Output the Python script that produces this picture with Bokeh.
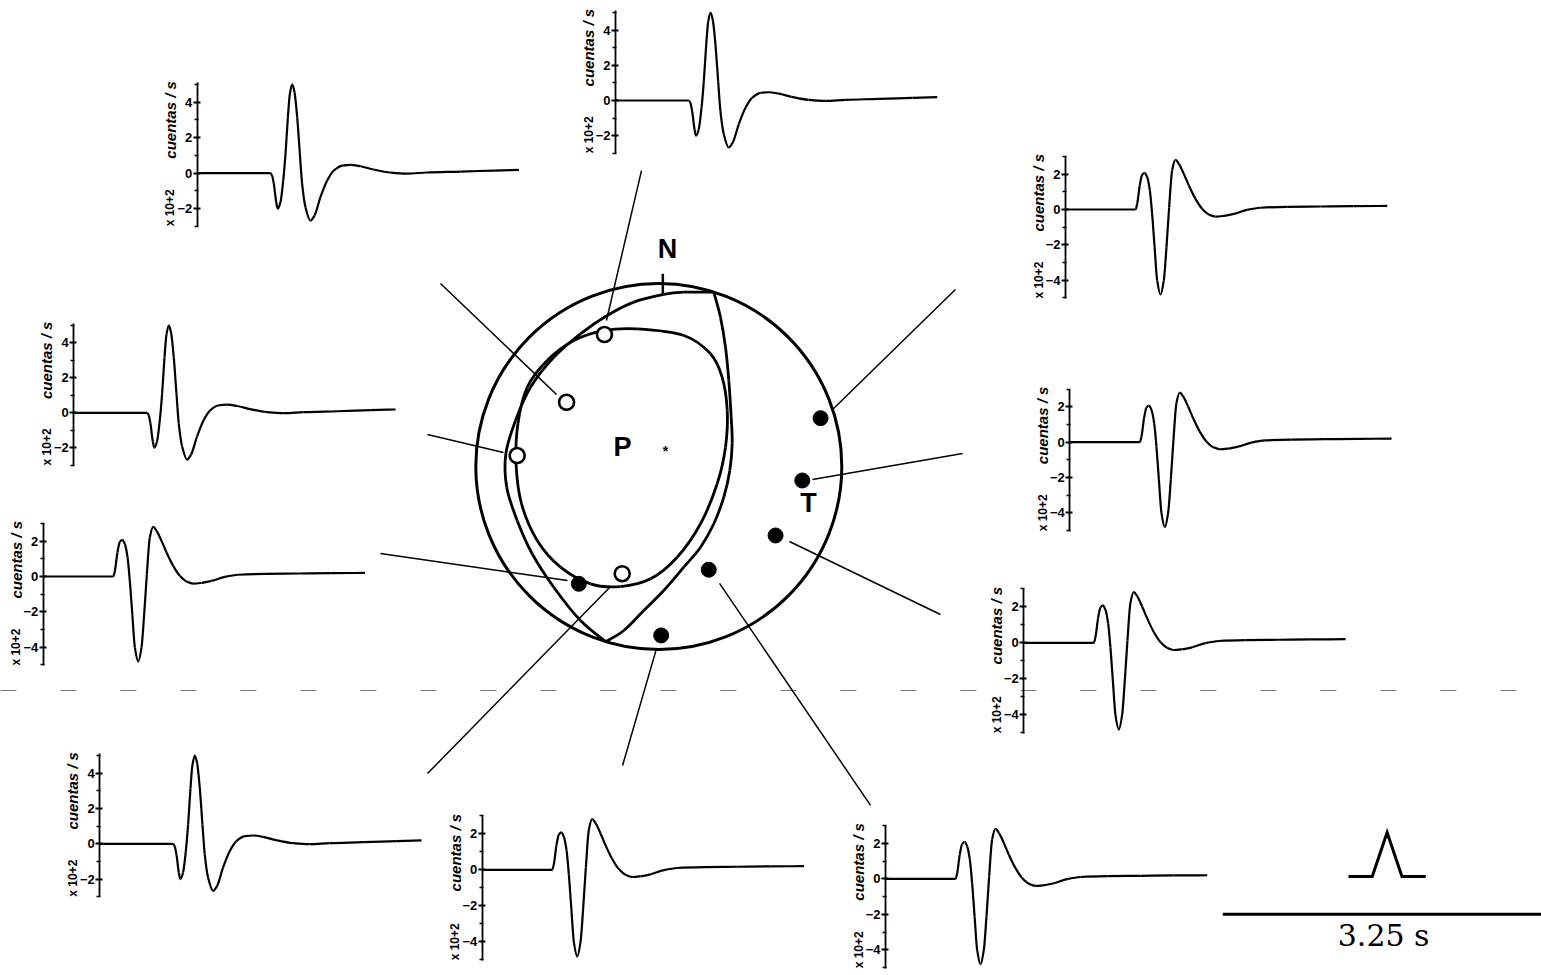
import math
from bokeh.plotting import figure
from bokeh.models import Range1d, LinearAxis, FixedTicker
from bokeh.core.properties import value
from bokeh.embed import file_html
from bokeh.resources import INLINE

# ---------------- data ----------------
# synthetic seismogram, type A (first motion down), time in s, amplitude in x100 counts/s
TIME_A = [0.00, 0.74, 0.757, 0.774, 0.798, 0.814, 0.841, 0.869, 0.892, 0.916, 0.936, 0.96,
          0.983, 1.01, 1.037, 1.06, 1.094, 1.144, 1.185, 1.245, 1.313, 1.38, 1.465, 1.55,
          1.65, 1.78, 1.95, 2.12, 2.32, 2.66, 3.0, 3.25]
AMP_A = [0.0, 0.0, -0.15, -0.6, -1.63, -2.0, -1.63, -0.41, 1.09, 3.15, 4.47, 5.0,
         4.56, 3.15, 1.09, -0.6, -1.92, -2.67, -2.38, -1.35, -0.41, 0.15, 0.43, 0.47,
         0.39, 0.21, 0.04, -0.02, 0.04, 0.09, 0.15, 0.19]

# synthetic seismogram, type B (first motion up)
TIME_B = [0.0, 0.707, 0.724, 0.75, 0.774, 0.798, 0.825, 0.852, 0.875, 0.9, 0.926, 0.96,
          0.993, 1.02, 1.047, 1.077, 1.111, 1.145, 1.195, 1.246, 1.313, 1.38, 1.448, 1.515,
          1.6, 1.7, 1.835, 1.97, 2.24, 2.576, 2.91, 3.25]
AMP_B = [0.0, 0.0, 0.32, 1.36, 1.96, 2.08, 1.83, 1.08, -0.25, -2.13, -4.02, -4.82,
         -4.02, -2.13, 0.13, 2.21, 2.81, 2.59, 2.02, 1.36, 0.6, 0.04, -0.28, -0.4,
         -0.36, -0.25, -0.02, 0.1, 0.15, 0.17, 0.19, 0.2]

A_MAJOR = [-2, 0, 2, 4]
A_MINOR = [-3, -1, 1, 3, 5]
A_BOUNDS = (-3.0, 5.1)
B_MAJOR = [-4, -2, 0, 2]
B_MINOR = [-5, -3, -1, 1, 3]
B_BOUNDS = (-5.05, 3.0)
AXIS_LABEL = "cuentas / s"
MULT_LABEL = "x 10+2"

# focal sphere (unit circle coordinates, lower hemisphere)
NODAL1_X = [0.3005, 0.337, 0.3645, 0.3825, 0.3956, 0.401, 0.388, 0.355, 0.3005, 0.228,
            0.1366, 0.027, -0.082, -0.191, -0.29]
NODAL1_Y = [0.9525, 0.816, 0.652, 0.470, 0.269, 0.124, -0.022, -0.168, -0.313, -0.441,
            -0.550, -0.678, -0.787, -0.896, -0.957]
NODAL2_X = [0.3005, 0.1366, 0.027, -0.1366, -0.282, -0.428, -0.574, -0.701, -0.783, -0.836,
            -0.831, -0.774, -0.692, -0.574, -0.428, -0.29]
NODAL2_Y = [0.9525, 0.9525, 0.940, 0.898, 0.825, 0.725, 0.597, 0.433, 0.251, 0.069,
            -0.113, -0.295, -0.477, -0.660, -0.842, -0.957]
CONE_X = [-0.118, 0.137, 0.2825, 0.346, 0.374, 0.3645, 0.319, 0.228, 0.1005, -0.045,
          -0.209, -0.373, -0.537, -0.6645, -0.750, -0.780, -0.770, -0.719, -0.610, -0.4645,
          -0.3005]
CONE_Y = [0.752, 0.716, 0.616, 0.488, 0.306, 0.105, -0.0945, -0.313, -0.4956, -0.614,
          -0.656, -0.641, -0.550, -0.404, -0.204, 0.015, 0.233, 0.433, 0.579, 0.6885,
          0.743]

DILAT_X = [-0.297, -0.504, -0.774, -0.200]
DILAT_Y = [0.721, 0.351, 0.060, -0.586]
COMPR_X = [-0.437, 0.013, 0.273, 0.638, 0.784, 0.884]
COMPR_Y = [-0.641, -0.923, -0.564, -0.377, -0.0765, 0.264]

LEADER_FROM_X = [-0.0945, -1.193, -1.264, -1.521, -1.264, -0.198, 1.157, 1.539, 1.660, 1.621]
LEADER_FROM_Y = [1.617, 1.0, 0.175, -0.475, -1.678, -1.634, -1.852, -0.809, 0.071, 0.967]
LEADER_TO_X = [-0.286, -0.559, -0.849, -0.499, -0.269, -0.0126, 0.332, 0.714, 0.840, 0.944]
LEADER_TO_Y = [0.798, 0.393, 0.0765, -0.623, -0.661, -0.995, -0.639, -0.410, -0.071, 0.306]

AXIS_NAMES = ["N", "P", "T", "*"]
AXIS_NAME_X = [0.0475, -0.198, 0.818, 0.037]
AXIS_NAME_Y = [1.186, 0.104, -0.202, 0.082]

# source time function & time scale
STF_TIME = [0.0, 0.24, 0.39, 0.54, 0.78]
STF_AMP = [0.0, 0.0, 1.0, 0.0, 0.0]
SCALE_SECONDS = 3.25
SCALE_TEXT = "3.25 s"

# ---------------- layout (page pixels) ----------------
INSET_KIND = ["A", "A", "B", "A", "B", "B", "B", "A", "B", "B"]
INSET_AXIS_X = [196.7, 615.0, 1065.0, 73.3, 1069.3, 42.7, 1023.3, 99.3, 481.7, 885.0]
INSET_ZERO_Y = [172.7, 100.0, 209.0, 412.3, 441.7, 576.0, 642.3, 843.3, 869.3, 878.3]
INSET_PX_PER_UNIT = [17.75, 17.6, 17.65, 17.5, 17.65, 17.65, 18.0, 17.65, 18.0, 17.75]
PX_PER_SECOND = 99.0

BALL_CX, BALL_CY, BALL_R = 658.3, 466.0, 183.0
W, H = 1541, 975
FX0, FY0 = 0.0, 0.0


def xr(anchor_px, scale):
    start = (FX0 - anchor_px) / scale
    return Range1d(start=start, end=start + W / scale)


def yr(anchor_px, scale):
    end = (anchor_px - FY0) / scale
    return Range1d(start=end - H / scale, end=end)


def pchip_segments(x, y):
    """Smooth monotone cubic rendering through the read points (Bezier form)."""
    n = len(x)
    h = [x[i + 1] - x[i] for i in range(n - 1)]
    dl = [(y[i + 1] - y[i]) / h[i] for i in range(n - 1)]
    d = [0.0] * n
    for i in range(1, n - 1):
        if dl[i - 1] * dl[i] <= 0:
            d[i] = 0.0
        else:
            w1 = 2 * h[i] + h[i - 1]
            w2 = h[i] + 2 * h[i - 1]
            d[i] = (w1 + w2) / (w1 / dl[i - 1] + w2 / dl[i])
    d[0] = 0.0 if dl[0] == 0 else dl[0]
    d[-1] = dl[-1]
    seg = dict(x0=[], y0=[], x1=[], y1=[], cx0=[], cy0=[], cx1=[], cy1=[])
    for i in range(n - 1):
        seg["x0"].append(x[i]); seg["y0"].append(y[i])
        seg["x1"].append(x[i + 1]); seg["y1"].append(y[i + 1])
        seg["cx0"].append(x[i] + h[i] / 3); seg["cy0"].append(y[i] + d[i] * h[i] / 3)
        seg["cx1"].append(x[i + 1] - h[i] / 3); seg["cy1"].append(y[i + 1] - d[i + 1] * h[i] / 3)
    return seg


def catmull_segments(x, y, closed=False):
    """Smooth parametric rendering through the read points (Bezier form)."""
    n = len(x)
    pts = list(zip(x, y))
    seg = dict(x0=[], y0=[], x1=[], y1=[], cx0=[], cy0=[], cx1=[], cy1=[])
    count = n if closed else n - 1
    for i in range(count):
        def P(k):
            if closed:
                return pts[k % n]
            return pts[min(max(k, 0), n - 1)]
        p0, p1, p2, p3 = P(i - 1), P(i), P(i + 1), P(i + 2)
        seg["x0"].append(p1[0]); seg["y0"].append(p1[1])
        seg["x1"].append(p2[0]); seg["y1"].append(p2[1])
        seg["cx0"].append(p1[0] + (p2[0] - p0[0]) / 6); seg["cy0"].append(p1[1] + (p2[1] - p0[1]) / 6)
        seg["cx1"].append(p2[0] - (p3[0] - p1[0]) / 6); seg["cy1"].append(p2[1] - (p3[1] - p1[1]) / 6)
    return seg


p = figure(width=W, height=H, x_range=xr(BALL_CX, BALL_R), y_range=yr(BALL_CY, BALL_R),
           x_axis_type=None, y_axis_type=None, toolbar_location=None,
           output_backend="svg", min_border=0, outline_line_color=None,
           background_fill_color="white", border_fill_color="white")

p.extra_x_ranges["pxx"] = Range1d(start=FX0, end=FX0 + W)
p.extra_y_ranges["pxy"] = Range1d(start=FY0 + H, end=FY0)
p.extra_x_ranges["stf_x"] = xr(1348.0, PX_PER_SECOND)
p.extra_y_ranges["stf_y"] = yr(876.0, 44.0)

# faint dashed scan line
p.line([0, 1541], [690, 690], x_range_name="pxx", y_range_name="pxy",
       line_color="#777777", line_width=1.1, line_dash="16 44")

TICK_FONT = "'Liberation Sans Narrow', 'Liberation Sans'"
for i, kind in enumerate(INSET_KIND):
    xn, yn = f"tx{i}", f"ay{i}"
    p.extra_x_ranges[xn] = xr(INSET_AXIS_X[i], PX_PER_SECOND)
    p.extra_y_ranges[yn] = yr(INSET_ZERO_Y[i], INSET_PX_PER_UNIT[i])
    if kind == "A":
        t, a, major, minor, bounds = TIME_A, AMP_A, A_MAJOR, A_MINOR, A_BOUNDS
    else:
        t, a, major, minor, bounds = TIME_B, AMP_B, B_MAJOR, B_MINOR, B_BOUNDS
    p.bezier(**pchip_segments(t, a), x_range_name=xn, y_range_name=yn,
             line_color="black", line_width=2.2)
    ax = LinearAxis(x_range_name=xn, y_range_name=yn, fixed_location=0, bounds=bounds,
                    ticker=FixedTicker(ticks=major, minor_ticks=minor))
    ax.axis_line_width = 1.8
    ax.major_tick_line_width = 1.8
    ax.minor_tick_line_width = 1.5
    ax.major_tick_out = 4
    ax.major_tick_in = 3
    ax.minor_tick_out = 3
    ax.minor_tick_in = 1
    ax.major_label_standoff = 1
    ax.major_label_text_font = TICK_FONT
    ax.major_label_text_font_style = "bold"
    ax.major_label_text_font_size = "13px"
    ax.major_label_text_color = "black"
    p.add_layout(ax, "left")
    p.text(x=[0], y=[bounds[0] + 6.0], text=[AXIS_LABEL], angle=math.pi / 2, x_offset=-27,
           text_align="center", text_baseline="middle", text_font=value("Liberation Sans"),
           text_font_style="bold italic", text_font_size="15px", text_color="black",
           x_range_name=xn, y_range_name=yn)
    p.text(x=[0], y=[bounds[0] + 1.05], text=[MULT_LABEL], angle=math.pi / 2, x_offset=-27,
           text_align="center", text_baseline="middle", text_font=value("Liberation Sans"),
           text_font_style="bold", text_font_size="12px", text_color="black",
           x_range_name=xn, y_range_name=yn)

# leader lines from stations to seismograms
p.segment(LEADER_FROM_X, LEADER_FROM_Y, LEADER_TO_X, LEADER_TO_Y,
          line_color="black", line_width=1.5)

# focal sphere
p.circle(x=[0], y=[0], radius=1.0, fill_color=None, line_color="black", line_width=3)
p.bezier(**catmull_segments(NODAL1_X, NODAL1_Y), line_color="black", line_width=2.8)
p.bezier(**catmull_segments(NODAL2_X, NODAL2_Y), line_color="black", line_width=2.8)
p.bezier(**catmull_segments(CONE_X, CONE_Y, closed=True), line_color="black", line_width=2.8)
p.segment([0.022], [1.053], [0.022], [0.944], line_color="black", line_width=2.5)

p.scatter(DILAT_X, DILAT_Y, marker="circle", size=15, fill_color="white",
          line_color="black", line_width=2.6)
p.scatter(COMPR_X, COMPR_Y, marker="circle", size=15, fill_color="black",
          line_color="black", line_width=1)

p.text(x=AXIS_NAME_X[:3], y=AXIS_NAME_Y[:3], text=AXIS_NAMES[:3], text_align="center",
       text_baseline="middle", text_font=value("Liberation Sans"), text_font_style="bold",
       text_font_size="27px", text_color="black")
p.text(x=AXIS_NAME_X[3:], y=AXIS_NAME_Y[3:], text=AXIS_NAMES[3:], text_align="center",
       text_baseline="middle", text_font=value("Liberation Sans"), text_font_style="bold",
       text_font_size="14px", text_color="black")

# source time function and time scale bar
p.line(STF_TIME, STF_AMP, x_range_name="stf_x", y_range_name="stf_y",
       line_color="black", line_width=3, line_join="miter")
scale_start = -1.27
p.line([scale_start, scale_start + SCALE_SECONDS], [-0.86, -0.86],
       x_range_name="stf_x", y_range_name="stf_y", line_color="black", line_width=3)
p.text(x=[scale_start + SCALE_SECONDS / 2], y=[-1.34], text=[SCALE_TEXT],
       x_range_name="stf_x", y_range_name="stf_y", text_align="center",
       text_baseline="middle", text_font=value("DejaVu Serif"), text_font_size="30px",
       text_color="black")

open("out.html", "w").write(file_html(p, INLINE))
